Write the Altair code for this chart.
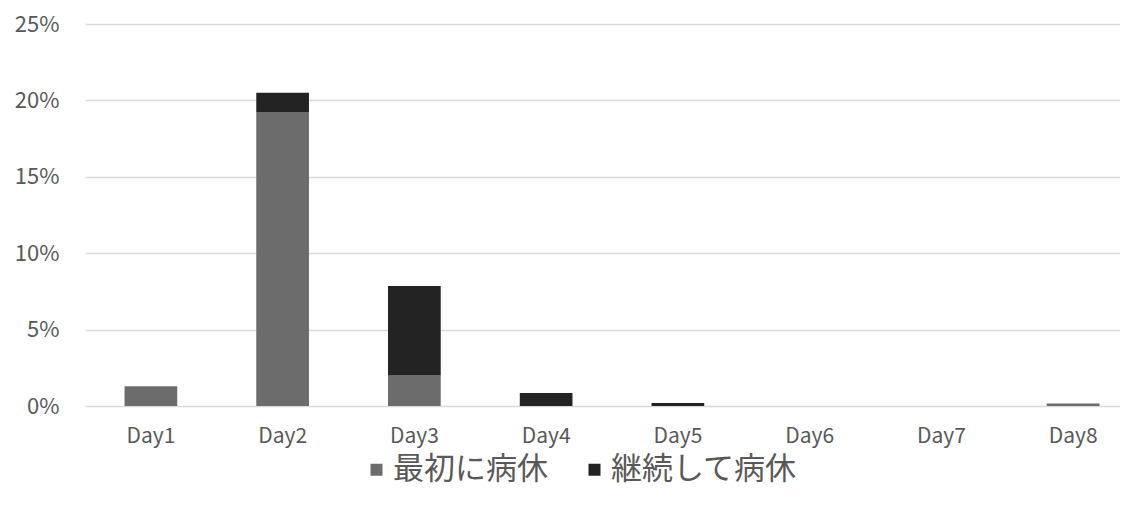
import altair as alt
import pandas as pd

days = ["Day1", "Day2", "Day3", "Day4", "Day5", "Day6", "Day7", "Day8"]
first_leave = [0.013, 0.192, 0.020, 0.0, 0.0, 0.0, 0.0, 0.0017]
continued_leave = [0.0, 0.013, 0.0585, 0.0085, 0.002, 0.0, 0.0, 0.0]
series = ["最初に病休", "継続して病休"]
colors = ["#6c6c6c", "#232323"]
y_ticks = [0, 0.05, 0.10, 0.15, 0.20, 0.25]
title_text = "2回目接種後の病休者の推移"

rows = []
for i, d in enumerate(days):
    rows.append({"day": d, "series": series[0], "idx": 0, "value": first_leave[i]})
    rows.append({"day": d, "series": series[1], "idx": 1, "value": continued_leave[i]})
df = pd.DataFrame(rows)

font = "Noto Sans CJK JP"
text_color = "#595959"

chart = alt.Chart(df).mark_bar().encode(
    x=alt.X(
        "day:N", sort=days,
        scale=alt.Scale(range=[0, 1054], paddingInner=0.6, paddingOuter=0.3),
        axis=alt.Axis(title=None, labelAngle=0, ticks=False, domain=False,
                      labelFontSize=21, labelColor=text_color, labelPadding=19),
    ),
    y=alt.Y(
        "value:Q", stack="zero",
        scale=alt.Scale(domain=[0, 0.25], nice=False),
        axis=alt.Axis(title=None, values=y_ticks, format=".0%", ticks=False, domain=False,
                      labelFontSize=22, labelColor=text_color, labelPadding=26,
                      gridColor="#d9d9d9", gridWidth=1.5),
    ),
    color=alt.Color(
        "series:N", sort=series,
        scale=alt.Scale(domain=series, range=colors),
        legend=alt.Legend(title=None, orient="none", direction="horizontal",
                          legendX=276, legendY=430, symbolType="square", symbolSize=144,
                          symbolStrokeWidth=0, labelFontSize=31, labelColor=text_color,
                          labelOffset=1, columnPadding=31, labelLimit=400),
    ),
    order=alt.Order("idx:Q", sort="ascending"),
).properties(
    width=1035, height=382,
    title=alt.TitleParams(text=title_text, fontSize=38, color=text_color,
                          fontWeight="normal", offset=9, anchor="middle"),
    padding={"left": 77, "top": 16, "right": 0, "bottom": 90},
    autosize=alt.AutoSizeParams(type="none"),
).configure(font=font).configure_view(stroke=None)

chart.save("out.html", embed_options={"renderer": "svg", "actions": False})
